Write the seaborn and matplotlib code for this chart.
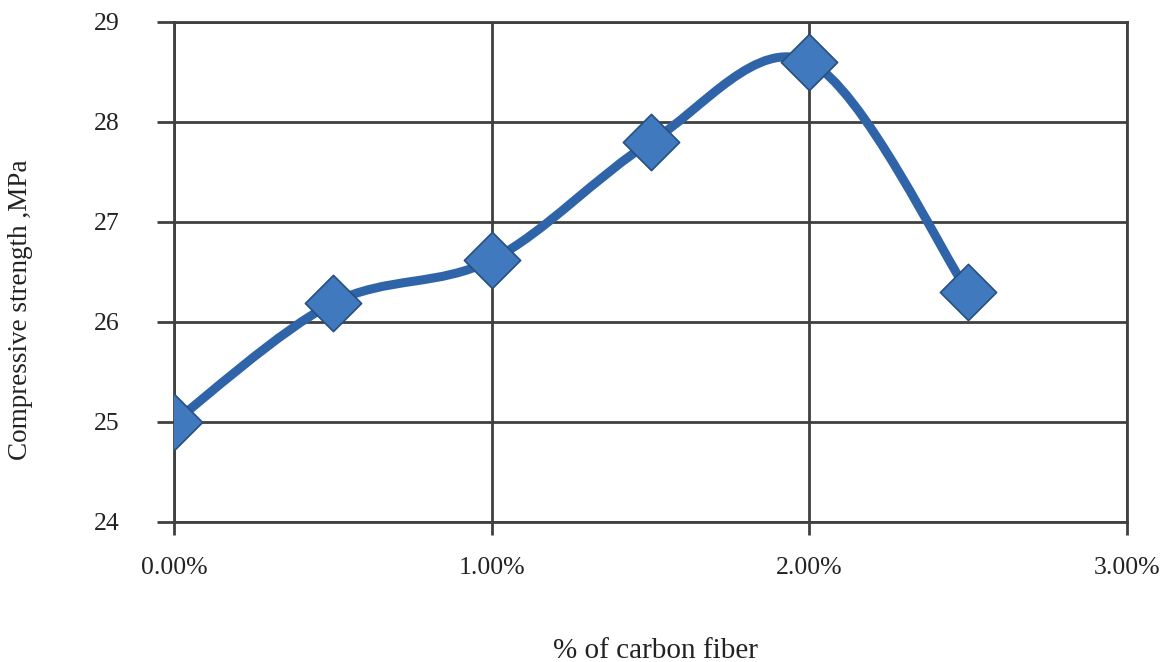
import numpy as np
import matplotlib
matplotlib.use("Agg")
import matplotlib.pyplot as plt
import seaborn as sns
from matplotlib.path import Path
from matplotlib.patches import PathPatch
from matplotlib.ticker import FuncFormatter

# data
fiber_pct = [0.0, 0.5, 1.0, 1.5, 2.0, 2.5]
strength = [25.0, 26.19, 26.62, 27.8, 28.6, 26.3]
x_ticks = [0.0, 1.0, 2.0, 3.0]
y_ticks = [24, 25, 26, 27, 28, 29]

line_color = "#2f65a8"
marker_color = "#4079bd"
edge_color = "#26507f"
grid_color = "#404040"

sns.set_theme(style="white")
plt.rcParams["font.family"] = ["Liberation Serif", "DejaVu Serif"]

fig = plt.figure(figsize=(11.6, 6.62), dpi=100)
ax = fig.add_axes([0.15, 0.2115, 0.8216, 0.7553])

# Excel-style smoothed line: cubic bezier segments (Catmull-Rom control points)
pts = np.column_stack([fiber_pct, strength])
ext = np.vstack([pts[0], pts, pts[-1]])
verts = [tuple(pts[0])]
codes = [Path.MOVETO]
for i in range(len(pts) - 1):
    p0, p1, p2, p3 = ext[i], ext[i + 1], ext[i + 2], ext[i + 3]
    c1 = p1 + (p2 - p0) / 6.0
    c2 = p2 - (p3 - p1) / 6.0
    verts += [tuple(c1), tuple(c2), tuple(p2)]
    codes += [Path.CURVE4] * 3
curve = PathPatch(Path(verts, codes), facecolor="none", edgecolor=line_color,
                  linewidth=6.5, capstyle="round", joinstyle="round", zorder=3)
ax.add_patch(curve)

sns.scatterplot(x=fiber_pct, y=strength, marker="D", s=820, color=marker_color,
                edgecolor=edge_color, linewidth=1.2, zorder=4, ax=ax)

ax.set_xlim(0, 3)
ax.set_ylim(24, 29)
ax.set_xticks(x_ticks)
ax.set_yticks(y_ticks)
ax.xaxis.set_major_formatter(FuncFormatter(lambda v, p: f"{v:.2f}%"))

ax.grid(True, color=grid_color, linewidth=2)
for s in ax.spines.values():
    s.set_color(grid_color)
    s.set_linewidth(2)

ax.tick_params(axis="y", which="major", direction="out", length=12, width=2,
               color=grid_color, left=True, pad=27, labelsize=18.5, labelcolor="#222222")
ax.tick_params(axis="x", which="major", direction="out", length=9, width=2,
               color=grid_color, bottom=True, pad=16, labelsize=18.5, labelcolor="#222222")

ax.set_xlabel("% of carbon fiber", fontsize=21, color="#222222")
ax.set_ylabel("Compressive strength ,MPa", fontsize=19.5, color="#222222")
ax.xaxis.set_label_coords(0.505, -0.232)
ax.yaxis.set_label_coords(-0.148, 0.425)

fig.savefig("out.png", dpi=100, facecolor="white")
